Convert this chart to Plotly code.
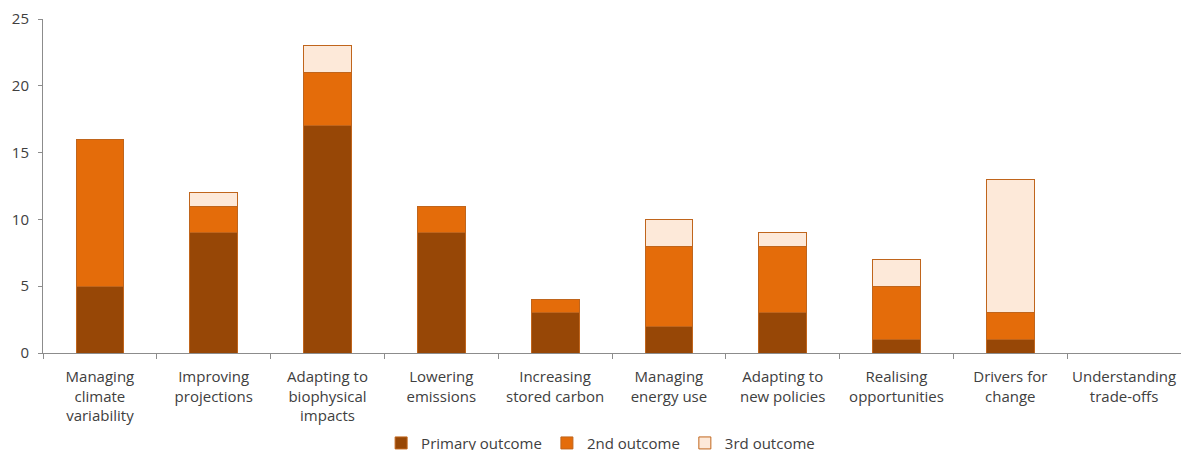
import plotly.graph_objects as go

categories = ["Managing<br>climate<br>variability", "Improving<br>projections",
              "Adapting to<br>biophysical<br>impacts", "Lowering<br>emissions",
              "Increasing<br>stored carbon", "Managing<br>energy use",
              "Adapting to<br>new policies", "Realising<br>opportunities",
              "Drivers for<br>change", "Understanding<br>trade-offs"]
primary = [5, 9, 17, 9, 3, 2, 3, 1, 1, 0]
second = [11, 2, 4, 2, 1, 6, 5, 4, 2, 0]
third = [0, 1, 2, 0, 0, 2, 1, 2, 10, 0]

series = [("Primary outcome", primary, "#974706"),
          ("2nd outcome", second, "#E46C0A"),
          ("3rd outcome", third, "#FDE9D9")]

fig = go.Figure()
for name, vals, col in series:
    fig.add_trace(go.Bar(x=categories, y=vals, name=name, marker_color=col,
                         marker_line=dict(color="#C0651C", width=1), width=0.42))

fig.update_layout(
    barmode="stack",
    width=1173, height=442,
    margin=dict(l=35, r=0, t=11, b=97, autoexpand=False),
    plot_bgcolor="white", paper_bgcolor="white",
    font=dict(family="Open Sans, sans-serif", size=15, color="#404040"),
    legend=dict(orientation="h", x=0.49, xanchor="center", y=-0.27, yanchor="middle",
                font=dict(size=15), traceorder="normal", itemwidth=30),
    showlegend=True,
)
fig.update_xaxes(showline=True, linecolor="#8c8c8c", linewidth=1, ticks="outside",
                 tickson="boundaries", ticklen=5, tickcolor="#8c8c8c", showgrid=False,
                 automargin=False, ticklabelstandoff=10)
fig.update_yaxes(range=[0, 25], dtick=5, showline=True, linecolor="#8c8c8c", linewidth=1,
                 ticks="outside", ticklen=4, tickcolor="#8c8c8c", showgrid=False,
                 zeroline=False, automargin=False, ticklabelstandoff=6)

fig.write_html("out.html")
